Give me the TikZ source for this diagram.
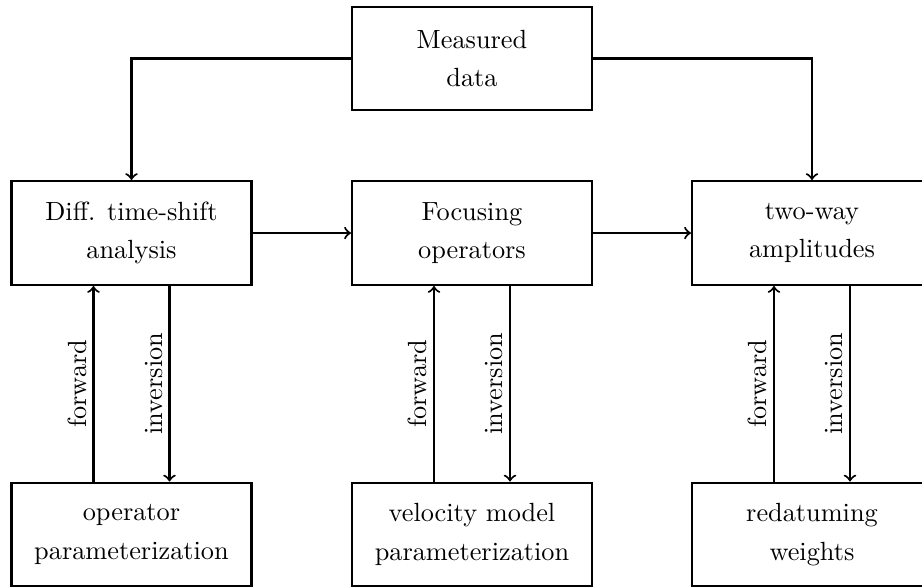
\documentclass[tikz,border=0pt]{standalone}
\begin{document}
\begin{tikzpicture}[x=0.3802pt, y=-0.3802pt,
  block/.style={draw, thick, minimum width=91.25pt, minimum height=39.5pt,
    align=center, inner sep=0pt, font=\linespread{1.22}\selectfont},
  flow/.style={->, thick},
  sidelabel/.style={midway, rotate=90, above, inner sep=2.2pt}]
  \useasboundingbox (0,0) rectangle (922,586);
  \clip (0,0) rectangle (922,586);

  % input
  \node[block, minimum height=39.2pt] (meas) at (472,58.5) {Measured\\data};

  % analysis row
  \node[block] (diff) at (131.5,233) {Diff. time-shift\\analysis};
  \node[block] (focus) at (472,233) {Focusing\\operators};
  \node[block] (amp) at (812,233) {two-way\\amplitudes};

  % parameterization row
  \node[block] (opar) at (131.5,534.5) {operator\\parameterization};
  \node[block] (vpar) at (472,534.5) {velocity model\\parameterization};
  \node[block] (wts) at (812,534.5) {redatuming\\weights};

  % data distribution
  \draw[flow] (meas.west) -| (diff.north);
  \draw[flow] (meas.east) -| (amp.north);
  \draw[flow] (diff.east) -- (focus.west);
  \draw[flow] (focus.east) -- (amp.west);

  % forward / inversion loops, 14.45pt either side of the box centres
  \foreach \top/\bot in {diff/opar, focus/vpar, amp/wts} {
    \draw[flow] ([xshift=-14.45pt]\bot.north) -- ([xshift=-14.45pt]\top.south)
      node[sidelabel] {forward};
    \draw[flow] ([xshift=14.45pt]\top.south) -- ([xshift=14.45pt]\bot.north)
      node[sidelabel] {inversion};
  }
\end{tikzpicture}
\end{document}
